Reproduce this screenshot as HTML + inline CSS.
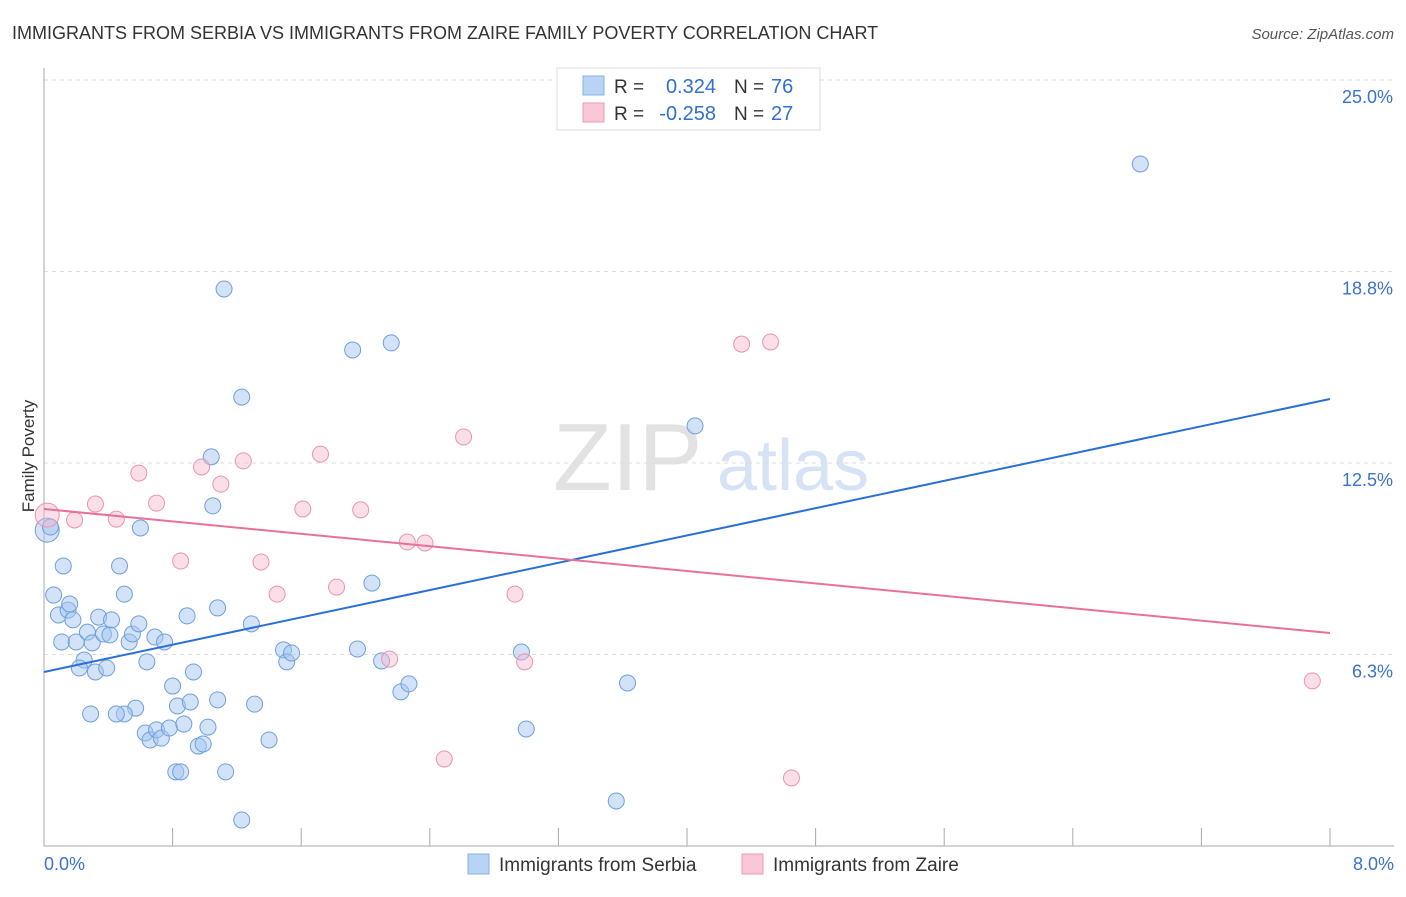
<!DOCTYPE html>
<html><head><meta charset="utf-8"><style>
body{margin:0;background:#fff;font-family:"Liberation Sans",sans-serif;}
svg text{font-family:"Liberation Sans",sans-serif;}
</style></head><body>
<svg id="chart" width="1406" height="892" xmlns="http://www.w3.org/2000/svg">
<text x="12" y="39" font-size="18" fill="#333">IMMIGRANTS FROM SERBIA VS IMMIGRANTS FROM ZAIRE FAMILY POVERTY CORRELATION CHART</text>
<text x="1394" y="39" font-size="15" font-style="italic" fill="#555" text-anchor="end">Source: ZipAtlas.com</text>
<g>
<text x="553" y="490" font-size="96" font-family="Liberation Serif" fill="#e2e2e2">ZIP</text>
<text x="717" y="490" font-size="72" fill="#d6e3f5">atlas</text>
</g>
<g id="grid"></g>
<g id="axes"></g>
<g id="points"></g>
<g id="lines"></g>
<text transform="translate(34,456) rotate(-90)" font-size="17" fill="#333" text-anchor="middle">Family Poverty</text>
<g>
<rect x="557" y="68" width="263" height="62" fill="#fff" stroke="#ddd"/>
<rect x="583" y="76" width="21" height="19" fill="#b9d3f5" stroke="#8ab0e6"/>
<rect x="583" y="103" width="21" height="19" fill="#fac7d6" stroke="#ef9ab5"/>
<text x="614" y="93" font-size="19" fill="#333">R =</text>
<text x="716" y="93" font-size="20" fill="#2f6fd0" text-anchor="end">0.324</text>
<text x="734" y="93" font-size="19" fill="#333">N =</text>
<text x="771" y="93" font-size="20" fill="#2f6fd0">76</text>
<text x="614" y="120" font-size="19" fill="#333">R =</text>
<text x="716" y="120" font-size="20" fill="#2f6fd0" text-anchor="end">-0.258</text>
<text x="734" y="120" font-size="19" fill="#333">N =</text>
<text x="771" y="120" font-size="20" fill="#2f6fd0">27</text>
</g>
<g>
<rect x="468" y="854" width="21" height="20" fill="#b9d3f5" stroke="#8ab0e6"/>
<text x="499" y="871" font-size="19" fill="#333">Immigrants from Serbia</text>
<rect x="742" y="854" width="21" height="20" fill="#fac7d6" stroke="#ef9ab5"/>
<text x="773" y="871" font-size="19" fill="#333">Immigrants from Zaire</text>
</g>
</svg>
<script>
const serbiaX=[0.02,0.04,0.06,0.12,0.09,0.15,0.16,0.18,0.11,0.20,0.25,0.22,0.27,0.30,0.32,0.34,0.37,0.39,0.41,0.42,0.47,0.50,0.53,0.55,0.59,0.60,0.64,0.69,0.75,0.57,0.50,0.45,0.29,0.63,0.66,0.70,0.73,0.78,0.87,0.80,0.83,0.91,0.93,0.89,1.02,1.08,1.05,1.04,1.08,1.12,1.23,1.29,1.31,1.40,1.49,1.51,1.54,0.96,0.99,0.82,0.85,1.13,1.23,1.92,2.16,2.04,1.95,2.10,2.22,2.27,2.97,3.00,3.63,3.56,4.05,6.82];
const serbiaY=[10.31,10.41,8.19,9.14,7.54,7.70,7.90,7.38,6.66,6.66,6.07,5.81,6.98,6.63,5.68,7.47,6.92,5.81,6.89,7.38,9.14,8.22,6.66,6.92,7.25,10.38,6.01,6.82,6.66,4.50,4.31,4.31,4.31,3.69,3.46,3.79,3.52,3.85,3.98,5.22,4.57,4.70,5.68,7.51,3.88,4.77,11.10,12.70,7.77,18.18,14.65,7.25,4.63,3.46,6.40,6.01,6.30,3.26,3.33,2.42,2.42,2.42,0.85,16.19,16.42,8.58,6.43,6.04,5.03,5.29,6.33,3.82,5.32,1.47,13.71,22.26];
const zaireX=[0.02,0.19,0.32,0.45,0.59,0.70,0.85,0.98,1.10,1.24,1.35,1.45,1.61,1.72,1.82,1.97,2.15,2.26,2.37,2.61,2.93,2.99,2.49,4.34,4.52,4.65,7.89];
const zaireY=[10.80,10.64,11.16,10.67,12.17,11.19,9.30,12.37,11.81,12.57,9.27,8.22,11.00,12.79,8.45,10.97,6.10,9.92,9.89,13.35,8.22,6.01,2.84,16.38,16.45,2.22,5.39];
const serbiaTrend=[5.68,14.59];
const zaireTrend=[11.0,6.95];
const yTicks=[25.0,18.8,12.5,6.3];
const yTickVals=[25,18.75,12.5,6.25];
const xTickVals=[0,0.8,1.6,2.4,3.2,4.0,4.8,5.6,6.4,7.2,8.0];
const NS="http://www.w3.org/2000/svg";
const X=v=>44+v*160.75, Y=v=>846-v*30.64;
function mk(t,a,p){const e=document.createElementNS(NS,t);for(const k in a)e.setAttribute(k,a[k]);p.appendChild(e);return e;}
const grid=document.getElementById('grid'),axes=document.getElementById('axes'),pts=document.getElementById('points'),lines=document.getElementById('lines');
yTickVals.forEach((v,i)=>{
 const l=mk('line',{x1:44,x2:1394,y1:Y(v),y2:Y(v),stroke:'#ddd','stroke-dasharray':'4,4'},grid);
 
 
 const t=mk('text',{x:1393,y:Y(v)+23,'font-size':18,fill:'#3a72cc','text-anchor':'end'},axes);
 t.textContent=yTicks[i].toFixed(1)+'%';
 
 
});
const ax=mk('path',{d:'M44 68V846H1394',stroke:'#aaa',fill:'none'},axes);


xTickVals.forEach(v=>{
 const t=mk('line',{x1:X(v),x2:X(v),y1:828,y2:846,stroke:'#aaa'},axes);
 
 
});
[[0,'0.0%','start',44],[8,'8.0%','end',1394]].forEach(d=>{
 const t=mk('text',{x:d[3],y:870,'font-size':18,fill:'#3a72cc','text-anchor':d[2]},axes);
 t.textContent=d[1];
 
 
});
function dots(xs,ys,fill,stroke,name){
 xs.forEach((x,i)=>{
  const c=mk('circle',{cx:X(x),cy:Y(ys[i]),r:i===0?12:8,fill:fill,stroke:stroke,'stroke-width':1},pts);
  
  
 });
}
dots(serbiaX,serbiaY,'rgba(165,198,240,0.5)','#6f9fdc','serbia-point');
dots(zaireX,zaireY,'rgba(246,184,204,0.45)','#ec93b0','zaire-point');
const l1=mk('line',{x1:X(0),y1:Y(serbiaTrend[0]),x2:X(8),y2:Y(serbiaTrend[1]),stroke:'#2a6fd6','stroke-width':2},lines);


const l2=mk('line',{x1:X(0),y1:Y(zaireTrend[0]),x2:X(8),y2:Y(zaireTrend[1]),stroke:'#e8709a','stroke-width':2},lines);


</script>
</body></html>
